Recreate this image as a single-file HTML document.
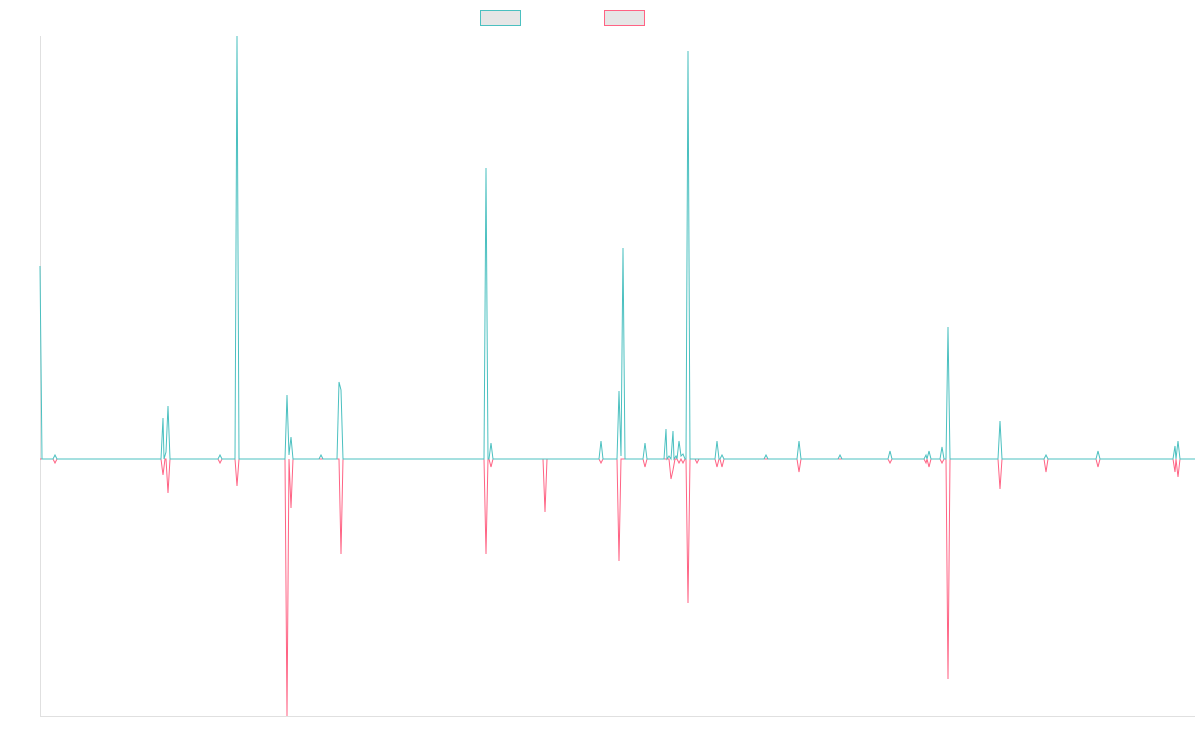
<!DOCTYPE html>
<html><head><meta charset="utf-8"><style>
html,body{margin:0;padding:0;background:#fff;width:1200px;height:750px;overflow:hidden}
</style></head><body>
<svg id="s" width="1200" height="750" xmlns="http://www.w3.org/2000/svg">
<rect x="480.5" y="10.5" width="40" height="15" fill="#e6e6e6" stroke="#4bc0c0" stroke-width="1"/>
<rect x="604.5" y="10.5" width="40" height="15" fill="#e6e6e6" stroke="#ff6384" stroke-width="1"/>
<line x1="40.5" y1="36" x2="40.5" y2="716" stroke="#e0e0e0"/>
<line x1="40" y1="716.5" x2="1195" y2="716.5" stroke="#e0e0e0"/>
<path id="p" fill="none" stroke="#ff6384" stroke-width="1"/>
<path id="t" fill="none" stroke="#4bc0c0" stroke-width="1"/>
</svg>
<script>
var B=459;
var teal=[[55,455],[163,418],[166,452],[168,406],[220,455],[237,36],[287,395],[289,455],[291,437],[321,455],[339,382],[341,390],[486,168],[491,443],[601,441],[619,391],[621,456],[623,248],[645,443],[666,429],[669,456],[673,431],[676,456],[679,441],[681,456],[683,454],[688,51],[717,441],[722,455],[766,455],[799,441],[840,455],[890,451],[926,455],[929,451],[942,447],[948,327],[1000,421],[1046,455],[1098,451],[1175,446],[1178,441]];
var pink=[[55,463],[163,475],[168,493],[220,463],[237,486],[287,716],[291,508],[341,554],[486,554],[491,467],[545,512],[601,463],[619,561],[645,467],[671,479],[673,470],[679,463],[683,463],[688,603],[697,463],[717,467],[722,467],[799,472],[890,463],[926,463],[929,467],[942,463],[948,679],[1000,489],[1046,472],[1098,467],[1175,472],[1178,477]];
function build(pts,start){
 var d="M40,"+start+" L42,"+B;
 var last=42;
 for(var i=0;i<pts.length;i++){
  var x=pts[i][0];
  if(x-2>last) d+=" L"+(x-2)+","+B;
  d+=" L"+x+","+pts[i][1];
  last=x;
  var nx=i+1<pts.length?pts[i+1][0]:99999;
  if(nx-x>4){ d+=" L"+(x+2)+","+B; last=x+2; }
 }
 d+=" L1195,"+B;
 return d;
}
document.getElementById('t').setAttribute('d',build(teal,266));
document.getElementById('p').setAttribute('d',build(pink,B));
</script>
</body></html>
